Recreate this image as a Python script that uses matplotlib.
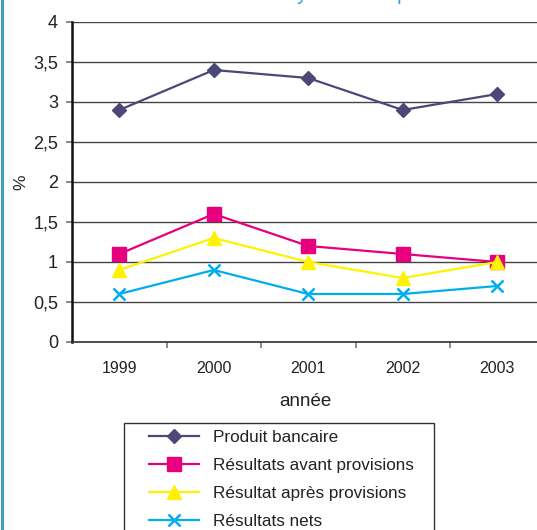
import matplotlib
matplotlib.use("Agg")
import matplotlib.pyplot as plt
from matplotlib.patches import Rectangle
from matplotlib.font_manager import FontProperties

plt.rcParams['font.family'] = ['Liberation Sans', 'DejaVu Sans']

years = ["1999", "2000", "2001", "2002", "2003"]
produit_bancaire = [2.9, 3.4, 3.3, 2.9, 3.1]
resultats_avant = [1.1, 1.6, 1.2, 1.1, 1.0]
resultat_apres = [0.9, 1.3, 1.0, 0.8, 1.0]
resultats_nets = [0.6, 0.9, 0.6, 0.6, 0.7]
yticks = [0, 0.5, 1, 1.5, 2, 2.5, 3, 3.5, 4]
ytick_labels = ["0", "0,5", "1", "1,5", "2", "2,5", "3", "3,5", "4"]
title = "Rentabilité du système en pour cent"

W, H = 537, 530
fig = plt.figure(figsize=(W / 100, H / 100), dpi=100)
ax = fig.add_axes([72 / W, (H - 342) / H, 472.5 / W, 320 / H])

x = list(range(len(years)))
series = [
    (produit_bancaire, "Produit bancaire", "#4B4878", "D", 7.2, 1.0),
    (resultats_avant, "Résultats avant provisions", "#E6007E", "s", 9.5, 1.0),
    (resultat_apres, "Résultat après provisions", "#FFF200", "^", 10, 1.0),
    (resultats_nets, "Résultats nets", "#00AEEF", "x", 9, 1.8),
]
handles = []
for vals, lab, col, mk, ms, mew in series:
    h, = ax.plot(x, vals, color=col, marker=mk, markersize=ms, linewidth=1.6,
                 markeredgewidth=mew, markeredgecolor=col, markerfacecolor=col,
                 label=lab, zorder=3)
    handles.append(h)

ax.set_xlim(-0.5, len(years) - 0.5)
ax.set_ylim(0, 4)
ax.set_yticks(yticks)
ax.set_yticklabels(ytick_labels)
ax.yaxis.grid(True, color="#444444", linewidth=1.0)
ax.set_axisbelow(True)

ax.set_xticks([i + 0.5 for i in range(len(years) - 1)])
ax.set_xticklabels([])
ax.set_xticks(x, minor=True)
ax.set_xticklabels(years, minor=True)
ax.tick_params(axis="x", which="minor", length=0, pad=14, labelsize=11.5, colors="#222222")
ax.tick_params(axis="x", which="major", length=4, width=1.2, color="#777777", direction="out")
ax.tick_params(axis="y", length=4, width=1.2, color="#777777", direction="out",
               pad=6, labelsize=13, labelcolor="#222222")

for s in ["top", "right"]:
    ax.spines[s].set_visible(False)
ax.spines["left"].set_linewidth(1.8)
ax.spines["left"].set_color("#111111")
ax.spines["bottom"].set_linewidth(1.2)
ax.spines["bottom"].set_color("#333333")

fig.text(21 / W, 1 - 182 / H, "%", rotation=90, ha="center", va="center",
         fontsize=12.5, color="#222222")
fig.text(305 / W, 1 - 406 / H, "année", ha="center", va="baseline",
         fontsize=13.5, color="#222222")

# partially visible title (cut at the top edge): place so that the 'y' falls
# near x=302 px and the 'p' near x=403 px, as in the reference
renderer = fig.canvas.get_renderer()
def text_w(s, fs):
    fp = FontProperties(family=['Liberation Sans'], size=fs)
    return renderer.get_text_width_height_descent(s, fp, ismath=False)[0]
iy = title.index("y")
ip = title.index("p")
def centers(fs):
    cy = text_w(title[:iy], fs) + text_w("y", fs) / 2
    cp = text_w(title[:ip], fs) + text_w("p", fs) / 2
    return cy, cp
cy0, cp0 = centers(10)
fs_title = 10 * 101 / (cp0 - cy0)
cy, cp = centers(fs_title)
x_left = 302 - cy
fig.text(x_left / W, 1 - 0.5 / H, title, ha="left", va="baseline",
         fontsize=fs_title, color="#2FA8D6")

# legend frame
fig.patches.append(Rectangle((124 / W, 1 - 560 / H), (434 - 124) / W, (560 - 423) / H,
                             transform=fig.transFigure, fill=False,
                             edgecolor="#333333", linewidth=1.0))
fig.legend(handles=handles, loc="upper left", bbox_to_anchor=(149 / W, 1 - 430 / H),
           frameon=False, borderpad=0, borderaxespad=0, fontsize=12.3,
           handlelength=2.9, handletextpad=0.82, labelspacing=0.76,
           labelcolor="#222222")

# left blue border
fig.patches.append(Rectangle((1 / W, 0), 2.5 / W, 1, transform=fig.transFigure,
                             color="#3A9FC4", linewidth=0))

fig.savefig("out.png", dpi=100)
